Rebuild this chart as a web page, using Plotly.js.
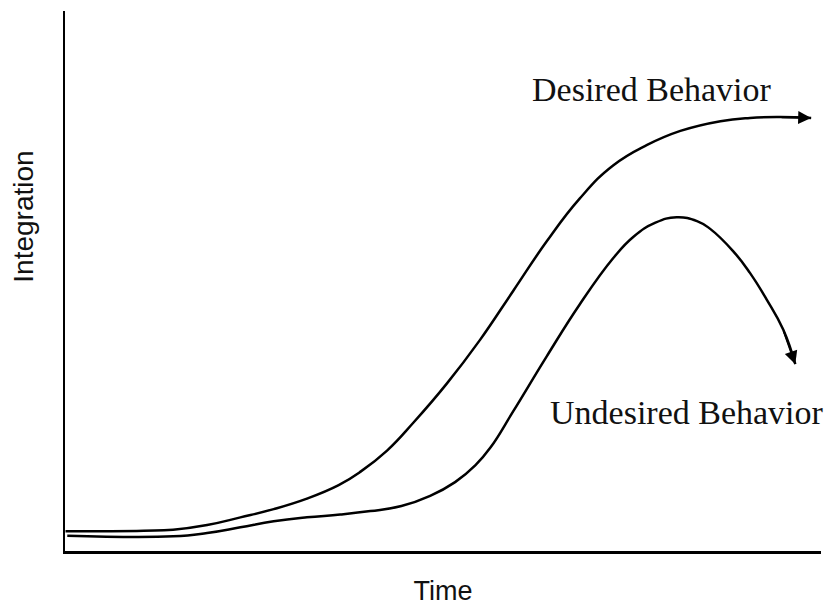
<!DOCTYPE html>
<html>
<head>
<meta charset="utf-8">
<script src="https://cdn.plot.ly/plotly-3.0.1.min.js"></script>
<style>html,body{margin:0;padding:0;background:#fff;}#chart{width:828px;height:606px;}</style>
</head>
<body>
<div id="chart"></div>
<script>
// Time (0-100) and Integration (0-100)
const desiredTime = [0.07, 10.4, 14.3, 18.8, 23.2, 27.6, 32.0, 36.2, 39.1, 42.6, 46.1, 50.5, 54.9, 59.3, 63.7, 68.1, 72.5, 77.0, 81.4, 86.7, 90.6, 94.6, 98.7];
const desiredIntegration = [3.64, 3.75, 3.94, 4.81, 6.23, 7.76, 9.7, 12.2, 14.7, 18.6, 23.8, 31.0, 39.1, 48.2, 57.3, 65.3, 71.4, 75.2, 77.8, 79.6, 80.2, 80.35, 80.2];

const undesiredTime = [0.3, 14.3, 18.8, 23.2, 27.6, 32.0, 36.4, 40.4, 44.5, 48.3, 51.6, 54.3, 56.3, 59.3, 63.7, 68.1, 72.5, 75.2, 78.1, 80.9, 83.6, 85.3, 88.4, 90.6, 92.8, 95.0, 96.6];
const undesiredIntegration = [2.83, 2.72, 3.33, 4.38, 5.49, 6.23, 6.75, 7.39, 8.32, 10.2, 12.75, 15.9, 19.2, 25.9, 36.0, 45.7, 54.2, 58.2, 60.8, 61.8, 61.1, 59.7, 55.5, 51.5, 46.6, 41.0, 34.6];

const seriesNames = ["Desired Behavior", "Undesired Behavior"];
const axisTitles = {x: "Time", y: "Integration"};
// label anchor positions (Time, Integration)
const labelTime = [77.6, 82.3];
const labelIntegration = [85.4, 25.6];

const lineStyle = {color: "#000", width: 2.5, shape: "spline", smoothing: 1.3};
const traces = [
  {x: desiredTime, y: desiredIntegration, mode: "lines", line: lineStyle, name: seriesNames[0], hoverinfo: "skip"},
  {x: undesiredTime, y: undesiredIntegration, mode: "lines", line: lineStyle, name: seriesNames[1], hoverinfo: "skip"}
];

function arrowFor(xs, ys) {
  const n = xs.length;
  return {
    x: xs[n - 1], y: ys[n - 1], xref: "x", yref: "y",
    ax: xs[n - 2], ay: ys[n - 2], axref: "x", ayref: "y",
    text: "", showarrow: true, arrowhead: 2, arrowsize: 1.3, arrowwidth: 2, arrowcolor: "#000", standoff: 0
  };
}

const serif = {family: "Liberation Serif, Times New Roman, serif", size: 34, color: "#111"};
const sans = {family: "Liberation Sans, Arial, sans-serif", size: 27, color: "#111"};
const annotations = [
  arrowFor(desiredTime, desiredIntegration),
  arrowFor(undesiredTime, undesiredIntegration),
  {x: labelTime[0], y: labelIntegration[0], xref: "x", yref: "y", text: seriesNames[0], showarrow: false, font: serif, xanchor: "center", yanchor: "middle"},
  {x: labelTime[1], y: labelIntegration[1], xref: "x", yref: "y", text: seriesNames[1], showarrow: false, font: serif, xanchor: "center", yanchor: "middle"},
  {x: -0.0549, y: 0.62, xref: "paper", yref: "paper", text: axisTitles.y, textangle: -90, showarrow: false,
   font: {family: sans.family, size: 28, color: "#111"}, xanchor: "center", yanchor: "middle"}
];

const layout = {
  width: 828, height: 606,
  margin: {l: 65, r: 7, t: 11, b: 55},
  paper_bgcolor: "#fff", plot_bgcolor: "#fff",
  showlegend: false,
  xaxis: {
    range: [0, 100], showline: true, linecolor: "#000", linewidth: 3,
    showgrid: false, zeroline: false, showticklabels: false, ticks: "",
    title: {text: axisTitles.x, standoff: 30, font: sans}
  },
  yaxis: {
    range: [0, 100], showline: true, linecolor: "#000", linewidth: 2,
    showgrid: false, zeroline: false, showticklabels: false, ticks: ""
  },
  annotations: annotations
};

Plotly.newPlot("chart", traces, layout, {staticPlot: true, displayModeBar: false});
</script>
</body>
</html>
